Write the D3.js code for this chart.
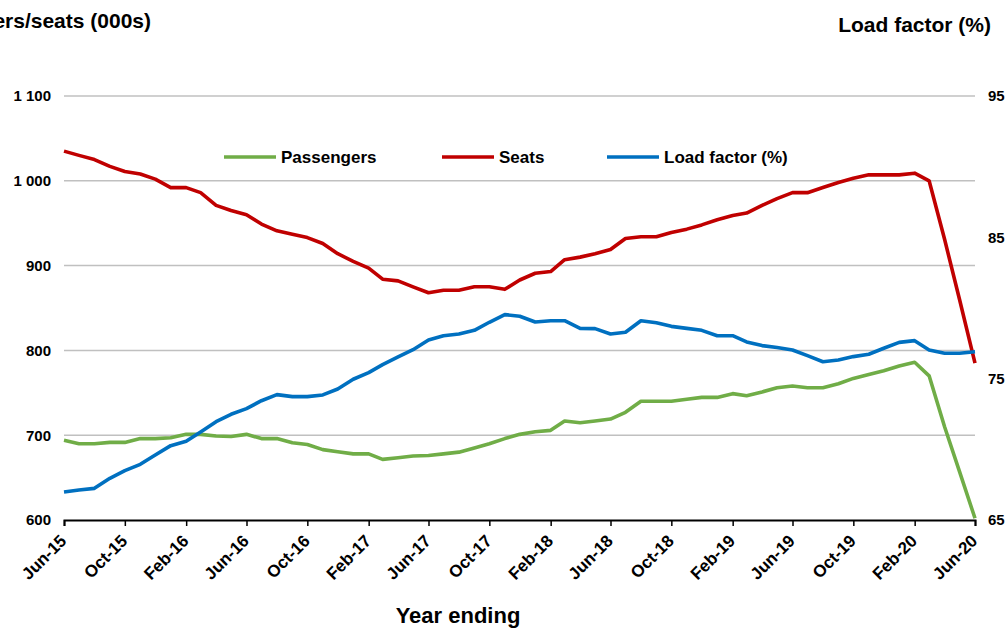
<!DOCTYPE html>
<html>
<head>
<meta charset="utf-8">
<script src="https://cdn.jsdelivr.net/npm/d3@7"></script>
<style>
  html, body { margin: 0; padding: 0; background: #fff; }
  svg { display: block; font-family: "Liberation Sans", Arial, sans-serif; }
</style>
</head>
<body>
<svg id="chart" width="1008" height="628"></svg>
<script>
// Months: Jun-15 .. Jun-20 (year ending)
const months = d3.timeMonth.range(new Date(2015, 5, 1), new Date(2020, 6, 1));
const tickLabels = ["Jun-15","Oct-15","Feb-16","Jun-16","Oct-16","Feb-17","Jun-17","Oct-17","Feb-18","Jun-18","Oct-18","Feb-19","Jun-19","Oct-19","Feb-20","Jun-20"];

const passengers = [694,690,690,691.5,691.5,696,696,697,701,701,699,698.5,701,696,696,691,
  689,683,680.5,678,678,671.5,673.5,675.5,676,678,680,685,690,696,701,704,
  705.7,716.7,714.7,716.7,719,727,740,740,740,742.5,744.6,744.6,749,746.6,751,756,
  758,756,756,760.7,767,771.7,776,781.6,786,770,710,657,602];

const seats = [1035,1030,1025,1017,1011,1008,1002,992,992,986,971,965,960,949,941,937,
  933,926,914,905,897,884,882,875,868,871,871,875,875,872,883,891,
  893,907,910,914,919,932,934,934,939,943,948,954,959,962,971,979,
  986,986,992,998,1003,1007,1007,1007,1009,1000,931,860,785];

const loadFactor = [66.98,67.12,67.24,67.95,68.49,68.94,69.6,70.26,70.57,71.23,71.96,72.48,72.88,73.44,73.87,73.73,
  73.73,73.85,74.27,74.96,75.43,75.99,76.54,77.05,77.74,78.04,78.16,78.42,78.99,79.53,79.42,79.01,
  79.1,79.1,78.56,78.54,78.16,78.28,79.1,78.96,78.7,78.56,78.42,78.04,78.04,77.6,77.34,77.2,
  77.03,76.63,76.2,76.32,76.56,76.73,77.15,77.57,77.69,77.03,76.8,76.8,76.91];

const leftTicks = [600,700,800,900,1000,1100];
const rightTicks = [65,75,85,95];

const series = [
  {name: "Passengers", values: passengers, axis: "left", color: "#70ad47"},
  {name: "Seats", values: seats, axis: "left", color: "#c00000"},
  {name: "Load factor (%)", values: loadFactor, axis: "right", color: "#0070c0"}
];

const svg = d3.select("#chart");
const L = 64, R = 975, T = 96, B = 520;

const x = d3.scaleTime().domain([months[0], months[months.length - 1]]).range([L, R]);
const yL = d3.scaleLinear().domain([600, 1100]).range([B, T]);
const yR = d3.scaleLinear().domain([65, 95]).range([B, T]);

// gridlines
svg.append("g").selectAll("line")
  .data(leftTicks.filter(d => d > 600))
  .join("line")
  .attr("x1", L).attr("x2", R)
  .attr("y1", d => yL(d)).attr("y2", d => yL(d))
  .attr("stroke", "#c0c0c0").attr("stroke-width", 1.5);

// left axis labels
const fmt = d => d >= 1000 ? Math.floor(d / 1000) + " " + d3.format("03d")(d % 1000) : String(d);
svg.append("g").selectAll("text")
  .data(leftTicks)
  .join("text")
  .attr("x", 51).attr("y", d => yL(d))
  .attr("dy", "0.36em")
  .attr("text-anchor", "end")
  .attr("font-size", 15).attr("font-weight", "bold").attr("fill", "#000")
  .style("white-space", "pre")
  .text(fmt);

// right axis labels
svg.append("g").selectAll("text")
  .data(rightTicks)
  .join("text")
  .attr("x", 988).attr("y", d => yR(d))
  .attr("dy", "0.36em")
  .attr("text-anchor", "start")
  .attr("font-size", 15).attr("font-weight", "bold").attr("fill", "#000")
  .text(d => d);

// bottom axis
const tickDates = months.filter((d, i) => i % 4 === 0);
const xAxis = d3.axisBottom(x)
  .tickValues(tickDates)
  .tickSize(6)
  .tickFormat((d, i) => tickLabels[i]);
const gx = svg.append("g").attr("transform", `translate(0,${B})`).call(xAxis);
gx.attr("font-size", 17).attr("font-family", "Liberation Sans, Arial, sans-serif");
gx.select(".domain").attr("stroke", "#000").attr("stroke-width", 2);
gx.selectAll(".tick line").attr("stroke", "#000").attr("stroke-width", 1.5);
gx.selectAll(".tick text")
  .attr("font-size", 17).attr("font-weight", "bold").attr("fill", "#000")
  .attr("text-anchor", "end")
  .attr("x", null).attr("y", null).attr("dy", null)
  .attr("transform", "translate(3,22) rotate(-45)");

// lines
const line = s => d3.line()
  .x((d, i) => x(months[i]))
  .y(d => s.axis === "left" ? yL(d) : yR(d));

svg.append("g").selectAll("path")
  .data(series)
  .join("path")
  .attr("d", s => line(s)(s.values))
  .attr("fill", "none")
  .attr("stroke", s => s.color)
  .attr("stroke-width", 3.6)
  .attr("stroke-linejoin", "round");

// legend
const legendPos = [224, 442, 607];
const lg = svg.append("g").selectAll("g")
  .data(series)
  .join("g")
  .attr("transform", (d, i) => `translate(${legendPos[i]},157)`);
lg.append("line").attr("x1", 0).attr("x2", 52).attr("y1", 0).attr("y2", 0)
  .attr("stroke", d => d.color).attr("stroke-width", 3.6);
lg.append("text").attr("x", 57).attr("dy", "0.36em")
  .attr("font-size", 17).attr("font-weight", "bold").attr("fill", "#000")
  .text(d => d.name);

// titles
svg.append("text").attr("x", 151).attr("y", 28).attr("text-anchor", "end")
  .attr("font-size", 21).attr("font-weight", "bold").text("Passengers/seats (000s)");
svg.append("text").attr("x", 991).attr("y", 32).attr("text-anchor", "end")
  .attr("font-size", 21).attr("font-weight", "bold").text("Load factor (%)");
svg.append("text").attr("x", 458).attr("y", 623).attr("text-anchor", "middle")
  .attr("font-size", 22).attr("font-weight", "bold").text("Year ending");
</script>
</body>
</html>
